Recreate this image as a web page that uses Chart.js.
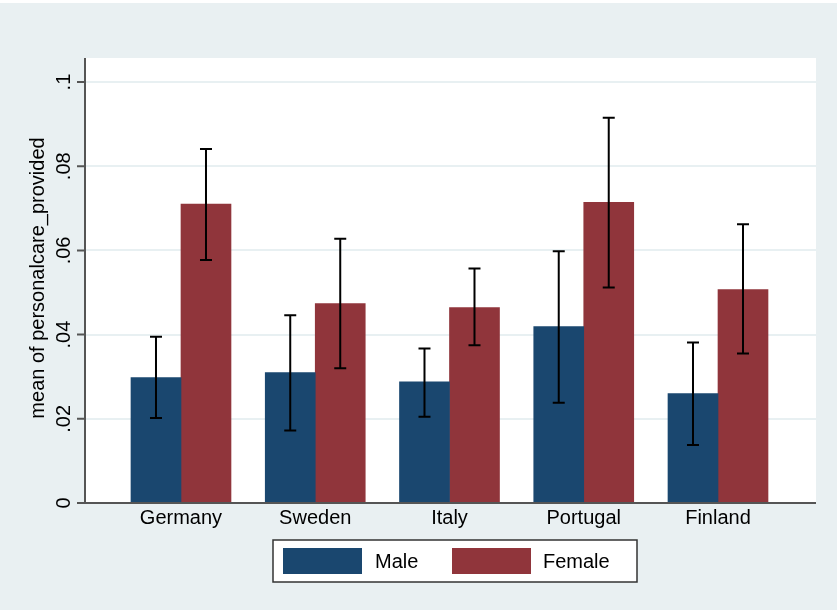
<!DOCTYPE html>
<html><head><meta charset="utf-8">
<script src="https://cdn.jsdelivr.net/npm/chart.js@4"></script>
<style>html,body{margin:0;padding:0;background:#fff}#wrap{position:absolute;left:0;top:3px;width:837px;height:607px;background:#e9f0f2}</style>
</head><body>
<div id="wrap"><canvas id="c"></canvas></div>
<script>
// 資料
const countries = ['Germany', 'Sweden', 'Italy', 'Portugal', 'Finland'];
const maleMean = [0.0298, 0.0310, 0.0288, 0.0419, 0.0260];
const maleLow = [0.0202, 0.0172, 0.0205, 0.0238, 0.0138];
const maleHigh = [0.0395, 0.0446, 0.0367, 0.0598, 0.0381];
const femaleMean = [0.0710, 0.0474, 0.0464, 0.0714, 0.0507];
const femaleLow = [0.0577, 0.0320, 0.0375, 0.0512, 0.0355];
const femaleHigh = [0.0841, 0.0628, 0.0557, 0.0915, 0.0662];
const yTicks = [0, 0.02, 0.04, 0.06, 0.08, 0.1];
const yTickText = ['0', '.02', '.04', '.06', '.08', '.1'];
const seriesNames = ['Male', 'Female'];
const colors = ['#1a476f', '#90353b'];
const FONT = '"Liberation Sans", Arial, sans-serif';

// 背景、誤差線、座標文字與圖例
const decor = {
  id: 'decor',
  beforeDraw(chart) {
    const a = chart.chartArea, ctx = chart.ctx;
    ctx.save(); ctx.fillStyle = '#fff'; ctx.fillRect(a.left, a.top - 3, a.right - a.left, a.bottom - a.top + 3); ctx.restore();
  },
  afterDatasetsDraw(chart) {
    const ctx = chart.ctx, y = chart.scales.y, x = chart.scales.x, a = chart.chartArea;
    ctx.save();
    // 誤差線
    const errs = [[maleLow, maleHigh], [femaleLow, femaleHigh]];
    errs.forEach((e, di) => {
      chart.getDatasetMeta(di).data.forEach((bar, i) => {
        const cx = bar.x, y1 = y.getPixelForValue(e[0][i]), y2 = y.getPixelForValue(e[1][i]);
        ctx.strokeStyle = '#000'; ctx.lineWidth = 2;
        ctx.beginPath();
        ctx.moveTo(cx, y1); ctx.lineTo(cx, y2);
        ctx.moveTo(cx - 6, y1); ctx.lineTo(cx + 6, y1);
        ctx.moveTo(cx - 6, y2); ctx.lineTo(cx + 6, y2);
        ctx.stroke();
      });
    });
    // 座標軸
    ctx.strokeStyle = '#555'; ctx.lineWidth = 2;
    ctx.beginPath();
    ctx.moveTo(a.left, a.top - 3); ctx.lineTo(a.left, a.bottom); ctx.lineTo(a.right, a.bottom);
    yTicks.forEach(v => { const py = y.getPixelForValue(v); ctx.moveTo(a.left - 8, py); ctx.lineTo(a.left, py); });
    ctx.stroke();
    ctx.fillStyle = '#000'; ctx.font = '20px ' + FONT;
    // Y 軸刻度 (旋轉)
    yTicks.forEach((v, i) => {
      ctx.save(); ctx.translate(a.left - 21, y.getPixelForValue(v)); ctx.rotate(-Math.PI / 2);
      ctx.textAlign = 'center'; ctx.textBaseline = 'middle'; ctx.fillText(yTickText[i], 0, 0); ctx.restore();
    });
    ctx.save(); ctx.translate(a.left - 47, (a.top + a.bottom) / 2 - 4); ctx.rotate(-Math.PI / 2);
    ctx.textAlign = 'center'; ctx.textBaseline = 'middle'; ctx.fillText('mean of personalcare_provided', 0, 0); ctx.restore();
    // X 軸標籤
    ctx.textAlign = 'center'; ctx.textBaseline = 'middle';
    countries.forEach((c, i) => ctx.fillText(c, x.getPixelForValue(i), a.bottom + 15));
    // 圖例
    const lx = 273, ly = 537;
    ctx.fillStyle = '#fff'; ctx.fillRect(lx, ly, 364, 42);
    ctx.strokeStyle = '#333'; ctx.lineWidth = 1.5; ctx.strokeRect(lx, ly, 364, 42);
    const sw = [[283, 375], [452, 543]];
    seriesNames.forEach((n, i) => {
      ctx.fillStyle = colors[i]; ctx.fillRect(sw[i][0], ly + 8, 79, 26);
      ctx.fillStyle = '#000'; ctx.textAlign = 'left'; ctx.fillText(n, sw[i][1], ly + 22);
    });
    ctx.restore();
  }
};

new Chart(document.getElementById('c'), {
  type: 'bar',
  data: {
    datasets: [
      { label: seriesNames[0], data: maleMean.map((v, i) => ({ x: i, y: v })), backgroundColor: colors[0], barThickness: 50 },
      { label: seriesNames[1], data: femaleMean.map((v, i) => ({ x: i, y: v })), backgroundColor: colors[1], barThickness: 50 }
    ]
  },
  options: {
    responsive: true, maintainAspectRatio: false, animation: false,
    layout: { padding: { top: 58, right: 21, left: 0, bottom: 0 } },
    plugins: { legend: { display: false }, tooltip: { enabled: false } },
    scales: {
      x: {
        type: 'linear', min: -0.715, max: 4.73, offset: false,
        grid: { display: false, drawTicks: false }, border: { display: false },
        ticks: { display: false },
        afterFit(s) { s.height = 107; }
      },
      y: {
        min: 0, max: 0.105,
        afterBuildTicks(s) { s.ticks = yTicks.map(v => ({ value: v })); },
        grid: { color: '#e8f0f2', lineWidth: 2, drawTicks: false }, border: { display: false },
        ticks: { display: false },
        afterFit(s) { s.width = 85; }
      }
    }
  },
  plugins: [decor]
});
</script>
</body></html>
